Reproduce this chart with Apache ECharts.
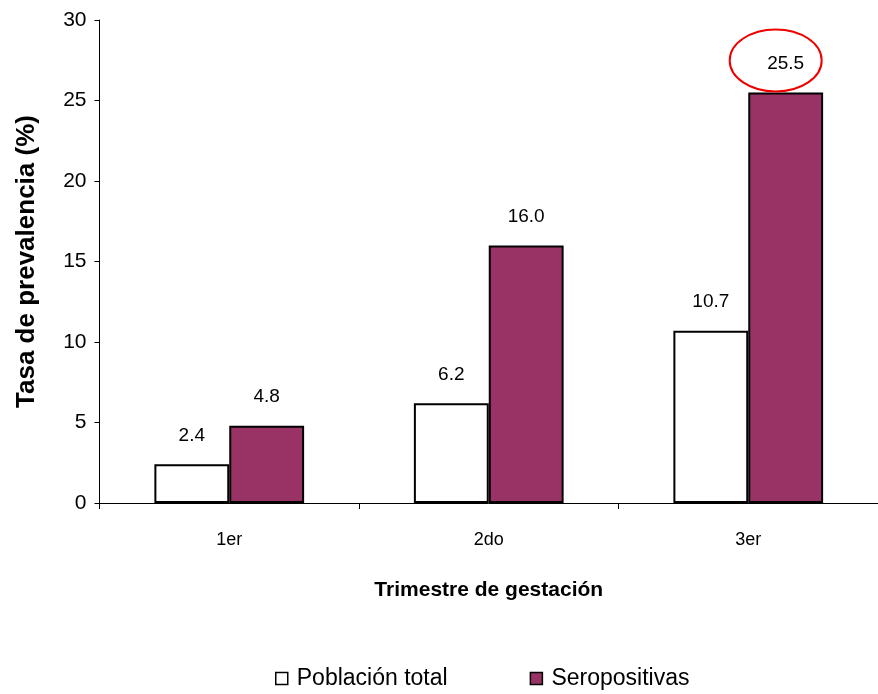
<!DOCTYPE html>
<html>
<head>
<meta charset="utf-8">
<script src="https://cdn.jsdelivr.net/npm/echarts@6/dist/echarts.min.js"></script>
<style>
  html, body { margin: 0; padding: 0; background: #fff; }
  #chart { width: 878px; height: 694px; }
</style>
</head>
<body>
<div id="chart"></div>
<script>
// Trimesters of gestation
const categories = ['1er', '2do', '3er'];
// Prevalence rate (%) per trimester
const poblacionTotal = [2.4, 6.2, 10.7];
const seropositivas = [4.8, 16.0, 25.5];
// Y axis range and step
const yMin = 0, yMax = 30, yStep = 5;

const FONT = '"Liberation Sans", Arial, sans-serif';
const GAP = 0.423;

const chart = echarts.init(document.getElementById('chart'), null, { renderer: 'canvas' });

const labelStyle = {
  show: true,
  position: 'top',
  distance: 19,
  color: '#000',
  fontFamily: FONT,
  fontSize: 19,
  formatter: p => p.value.toFixed(1)
};

chart.setOption({
  animation: false,
  backgroundColor: '#fff',
  grid: { left: 99.5, right: -1.5, top: 20, bottom: 191, containLabel: false },
  legend: {
    top: 662,
    left: 270,
    itemGap: 82,
    itemWidth: 12,
    itemHeight: 12,
    textStyle: { fontFamily: FONT, fontSize: 23, color: '#000', padding: [0, 0, 0, 4] },
    data: [
      { name: 'Población total', icon: 'rect', itemStyle: { color: '#fff', borderColor: '#000', borderWidth: 1.5 } },
      { name: 'Seropositivas', icon: 'rect', itemStyle: { color: '#993366', borderColor: '#000', borderWidth: 1.5 } }
    ]
  },
  xAxis: {
    type: 'category',
    data: categories,
    name: 'Trimestre de gestación',
    nameLocation: 'middle',
    nameGap: 77,
    nameTextStyle: { fontFamily: FONT, fontWeight: 'bold', fontSize: 21, color: '#000' },
    axisLine: { lineStyle: { color: '#000', width: 1 } },
    axisTick: { show: true, alignWithLabel: false, length: 6, lineStyle: { color: '#000' } },
    axisLabel: { fontFamily: FONT, fontSize: 18, color: '#000', margin: 28 },
    splitLine: { show: false }
  },
  yAxis: {
    type: 'value',
    min: yMin,
    max: yMax,
    interval: yStep,
    name: 'Tasa de prevalencia (%)',
    nameLocation: 'middle',
    nameGap: 60,
    nameRotate: 90,
    nameTextStyle: { fontFamily: FONT, fontWeight: 'bold', fontSize: 26, color: '#000' },
    axisLine: { show: true, lineStyle: { color: '#000', width: 1 } },
    axisTick: { show: true, length: 5, lineStyle: { color: '#000' } },
    axisLabel: { fontFamily: FONT, fontSize: 21, color: '#000', margin: 13 },
    splitLine: { show: false }
  },
  series: [
    {
      name: 'Población total',
      type: 'bar',
      data: poblacionTotal,
      barGap: '0%',
      barCategoryGap: (GAP * 100) + '%',
      itemStyle: { color: '#fff', borderColor: '#000', borderWidth: 2 },
      label: labelStyle
    },
    {
      name: 'Seropositivas',
      type: 'bar',
      data: seropositivas,
      barGap: '0%',
      barCategoryGap: (GAP * 100) + '%',
      itemStyle: { color: '#993366', borderColor: '#000', borderWidth: 2 },
      label: labelStyle
    }
  ]
});

// Red ellipse highlighting the third-trimester seropositive value
function drawHighlight() {
  const idx = 2;
  const base = chart.convertToPixel({ xAxisIndex: 0, yAxisIndex: 0 }, [idx, seropositivas[idx]]);
  const band = chart.convertToPixel({ xAxisIndex: 0 }, 1) - chart.convertToPixel({ xAxisIndex: 0 }, 0);
  const barW = band * (1 - GAP) / 2;
  const cx = base[0] + barW / 2 - 10;
  const cy = base[1] - 32;
  chart.setOption({
    graphic: [{
      type: 'ellipse',
      shape: { cx: cx, cy: cy, rx: 46, ry: 31 },
      style: { fill: 'none', stroke: '#ee0000', lineWidth: 2 },
      z: 100
    }]
  });
}
drawHighlight();
</script>
</body>
</html>
